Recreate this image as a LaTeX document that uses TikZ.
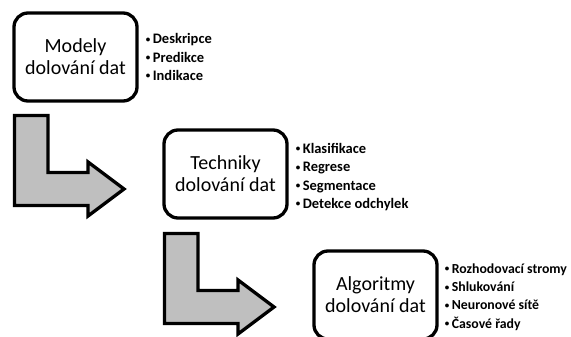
\documentclass[tikz,border=0pt]{standalone}
\usepackage{fontspec}
\setmainfont{Carlito}
\tikzset{
  stagebox/.style={draw=black, line width=3.3pt, rounded corners=14pt, fill=white,
    minimum width=123pt, minimum height=88pt, inner sep=0pt, align=center,
    font=\fontsize{20}{22}\selectfont},
  bulletlist/.style={anchor=west, align=left, inner sep=0pt,
    font=\fontsize{14.5}{18.3}\selectfont\bfseries},
  bentarrow/.style={draw=black, line width=3.3pt, fill=black!25, line join=miter}
}
\newcommand{\bentarrowpath}[2]{%
  \draw[bentarrow, shift={(#1,#2)}] (14.5,115.5) -- (48,115.5) -- (48,172.5) -- (88,172.5)
    -- (88,162) -- (124,189) -- (88,216) -- (88,205.5) -- (14.5,205.5) -- cycle;}
\newcommand{\bl}{\raisebox{1.6pt}{\fontsize{9}{9}\selectfont•}\hspace{2.5pt}}
\begin{document}
\begin{tikzpicture}[x=1pt, y=-1pt]
\clip (0,0) rectangle (571,337);
\fill[white] (0,0) rectangle (571,337);
% boxes
\node[stagebox] (m) at (75.5,57) {Modely\\dolování dat};
\node[stagebox] (t) at (225.5,174) {Techniky\\dolování dat};
\node[stagebox] (a) at (375.5,295) {Algoritmy\\dolování dat};
% bullet lists
\node[bulletlist] (mb) at ([xshift=7pt]m.east) {\bl Deskripce\\\bl Predikce\\\bl Indikace};
\node[bulletlist] (tb) at ([xshift=7pt,yshift=-3pt]t.east) {\bl Klasifikace\\\bl Regrese\\\bl Segmentace\\\bl Detekce odchylek};
\node[bulletlist, font=\fontsize{13.8}{18.3}\selectfont\bfseries] (ab) at ([xshift=6pt,yshift=-2pt]a.east) {\bl Rozhodovací stromy\\\bl Shlukování\\\bl Neuronové sítě\\\bl Časové řady};
% bent arrows
\bentarrowpath{0}{0}
\bentarrowpath{150}{118}
\end{tikzpicture}
\end{document}
